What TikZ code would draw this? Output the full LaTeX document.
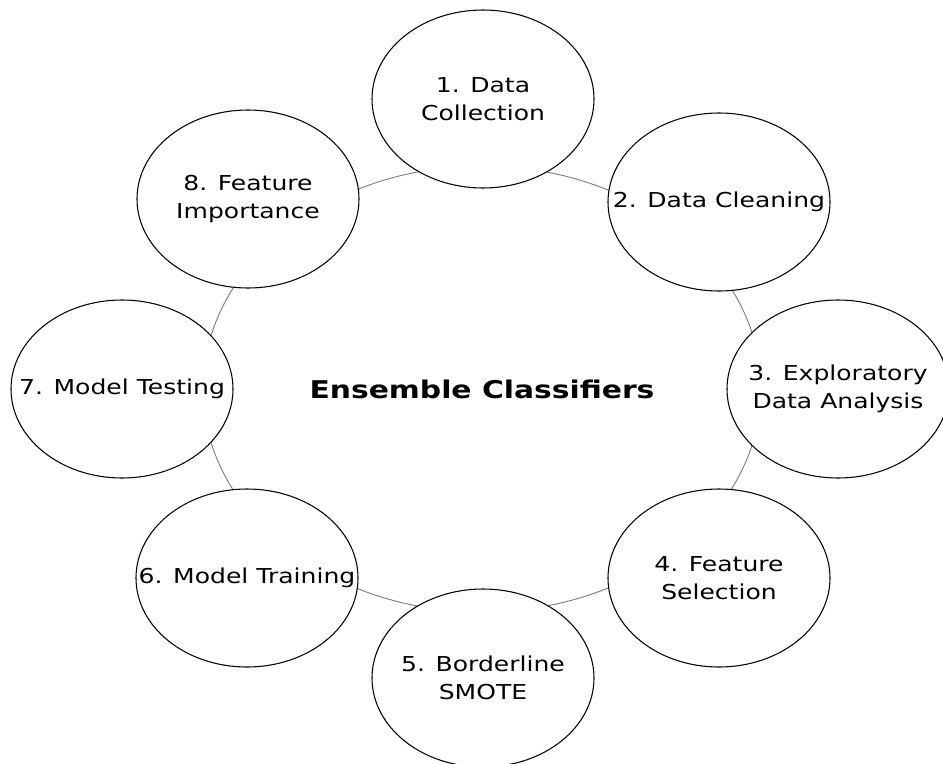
\documentclass[tikz,border=0pt]{standalone}
\usepackage{fontspec}
\setmainfont{DejaVu Sans}[FakeStretch=1.22]
\usetikzlibrary{shapes.geometric}

\begin{document}
\begin{tikzpicture}[x=0.75pt, y=0.75pt,
	stage/.style={draw, ellipse, fill=white, line width=0.8pt, minimum width=166.5pt, minimum height=133.5pt, inner sep=0pt},
	stagetext/.style={align=center, font=\fontsize{15.4}{21}\selectfont}]
			\useasboundingbox (0,0) rectangle (943,-764);
			% Ring
			\coordinate (hub) at (482,-389);
			\draw[gray, line width=0.7pt] (hub) ellipse [x radius=279, y radius=223];
			% Stages
			\node[stage, label={[stagetext]center:1. Data\\Collection}] (collect) at (483,-99) {};
			\node[stage, label={[stagetext]center:2. Data Cleaning}] (clean) at (719,-202) {};
			\node[stage, label={[stagetext]center:3. Exploratory\\Data Analysis}] (eda) at (838,-389) {};
			\node[stage, label={[stagetext]center:4. Feature\\Selection}] (select) at (719,-578) {};
			\node[stage, label={[stagetext]center:5. Borderline\\SMOTE}] (smote) at (483,-678) {};
			\node[stage, label={[stagetext]center:6. Model Training}] (train) at (247,-578) {};
			\node[stage, label={[stagetext]center:7. Model Testing}] (test) at (122,-389) {};
			\node[stage, label={[stagetext]center:8. Feature\\Importance}] (importance) at (248,-199) {};
			% Centre
			\node[font=\fontsize{18.3}{22}\selectfont\bfseries] (title) at (hub) {Ensemble Classifiers};
		\end{tikzpicture}
\end{document}
